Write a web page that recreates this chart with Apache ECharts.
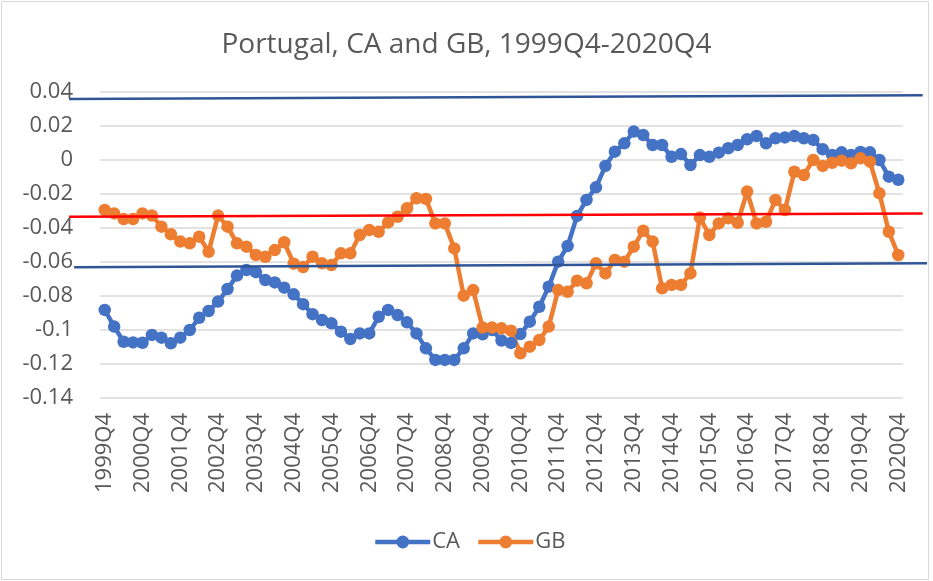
<!DOCTYPE html>
<html>
<head>
<meta charset="utf-8">
<script src="https://cdn.jsdelivr.net/npm/echarts@6/dist/echarts.min.js"></script>
<style>
  html, body { margin: 0; padding: 0; background: #fff; }
  #main { width: 933px; height: 581px; }
</style>
</head>
<body>
<div id="main"></div>
<script>
// quarters 1999Q4 .. 2020Q4
const quarters = []
for (let y = 1999; y <= 2020; y++) {
  for (let q = 1; q <= 4; q++) {
    if (y === 1999 && q < 4) continue
    quarters.push(y + 'Q' + q)
  }
}

const caValues = [
  -0.0882, -0.098, -0.1069, -0.1073, -0.1075, -0.1029, -0.1045, -0.1078, -0.1045, -0.100,
  -0.0928, -0.0888, -0.0833, -0.0759, -0.068, -0.0647, -0.066, -0.0706, -0.072, -0.0751,
  -0.079, -0.0848, -0.0907, -0.0941, -0.0961, -0.101, -0.1053, -0.102, -0.102, -0.0922,
  -0.0882, -0.0912, -0.0955, -0.102, -0.1108, -0.1176, -0.1176, -0.1176, -0.1108, -0.102,
  -0.1025, -0.100, -0.1062, -0.1076, -0.1024, -0.0951, -0.0863, -0.0745, -0.0598, -0.0506,
  -0.0329, -0.0235, -0.0161, -0.0035, 0.0049, 0.0098, 0.0167, 0.0147, 0.0088, 0.0088,
  0.0019, 0.0035, -0.003, 0.0029, 0.0019, 0.0043, 0.0069, 0.0088, 0.0122, 0.0141,
  0.0098, 0.0128, 0.0133, 0.0141, 0.0128, 0.0118, 0.0063, 0.003, 0.0045, 0.003,
  0.0047, 0.0045, 0.0, -0.0098, -0.0116
]

const gbValues = [
  -0.0294, -0.0314, -0.0347, -0.0347, -0.0314, -0.0327, -0.0392, -0.0437, -0.048, -0.049,
  -0.0451, -0.054, -0.0327, -0.0392, -0.049, -0.051, -0.0559, -0.0569, -0.053, -0.0484,
  -0.061, -0.063, -0.0569, -0.0608, -0.0618, -0.0549, -0.0549, -0.0441, -0.0412, -0.0422,
  -0.0367, -0.0334, -0.0284, -0.0225, -0.0229, -0.0373, -0.0373, -0.052, -0.0798, -0.0765,
  -0.0986, -0.0986, -0.099, -0.1004, -0.1137, -0.1098, -0.1059, -0.098, -0.0765, -0.0775,
  -0.071, -0.0725, -0.0608, -0.0667, -0.0588, -0.0598, -0.051, -0.0416, -0.048, -0.0755,
  -0.0735, -0.0735, -0.0667, -0.0338, -0.0441, -0.0373, -0.0343, -0.0369, -0.0186, -0.0373,
  -0.0363, -0.0235, -0.0294, -0.0069, -0.0088, 0.0, -0.0035, -0.0016, -0.0004, -0.0019,
  0.001, -0.001, -0.0196, -0.0422, -0.0559
]

// hand drawn reference lines: [start, end] as [fraction of width, value]
const topLine = [[0, 0.0359], [0.995, 0.0381]]
const redLine = [[0, -0.0334], [0.995, -0.0314]]
const lowLine = [[0.006, -0.0631], [1, -0.0607]]

const yTicks = { min: -0.14, max: 0.04, step: 0.02 }

const font = 'Open Sans'
const grey = '#595959'

const chart = echarts.init(document.getElementById('main'))

const refLine = (name, data, color) => ({
  name,
  type: 'line',
  xAxisIndex: 1,
  yAxisIndex: 1,
  data,
  symbol: 'none',
  silent: true,
  z: 5,
  lineStyle: { color, width: 2.5 }
})

const dataLine = (name, data, color) => ({
  name,
  type: 'line',
  data,
  symbol: 'circle',
  symbolSize: 12.5,
  showAllSymbol: true,
  itemStyle: { color },
  lineStyle: { color, width: 4.5 }
})

const option = {
  backgroundColor: '#fff',
  animation: false,
  textStyle: { fontFamily: font },
  title: {
    text: 'Portugal, CA and GB, 1999Q4-2020Q4',
    left: 'center',
    top: 26,
    textStyle: { fontFamily: font, fontSize: 28, fontWeight: 'normal', color: grey }
  },
  legend: {
    data: ['CA', 'GB'],
    left: 368,
    top: 526,
    itemWidth: 55,
    itemHeight: 16,
    itemGap: 16,
    lineStyle: { width: 4.5 },
    textStyle: { fontFamily: font, fontSize: 22, color: grey, padding: [0, 0, 0, -3] }
  },
  grid: [
    { left: 100, right: 30, top: 92, bottom: 183 },
    { left: 69, right: 6, top: 92, bottom: 183 }
  ],
  xAxis: [
    {
      type: 'category',
      data: quarters,
      boundaryGap: true,
      axisLine: { show: false },
      axisTick: { show: false },
      axisLabel: {
        interval: 3,
        rotate: 90,
        margin: 15,
        fontFamily: font,
        fontSize: 22,
        color: grey
      }
    },
    { type: 'value', gridIndex: 1, min: 0, max: 1, show: false }
  ],
  yAxis: [
    {
      type: 'value',
      min: yTicks.min,
      max: yTicks.max,
      interval: yTicks.step,
      axisLine: { show: false },
      axisTick: { show: false },
      splitLine: { lineStyle: { color: '#d9d9d9', width: 1.5 } },
      axisLabel: {
        margin: 27,
        fontFamily: font,
        fontSize: 22,
        color: grey,
        formatter: v => String(parseFloat(v.toFixed(2)))
      }
    },
    { type: 'value', gridIndex: 1, min: yTicks.min, max: yTicks.max, show: false }
  ],
  series: [
    dataLine('CA', caValues, '#4472C4'),
    dataLine('GB', gbValues, '#ED7D31'),
    refLine('top', topLine, '#2F5597'),
    refLine('red', redLine, '#FF0000'),
    refLine('low', lowLine, '#2F5597')
  ],
  graphic: [
    {
      type: 'rect',
      shape: { x: 1.5, y: 1.5, width: 927, height: 578 },
      style: { fill: 'none', stroke: '#d9d9d9', lineWidth: 1 },
      silent: true
    }
  ]
}

chart.setOption(option)
</script>
</body>
</html>
